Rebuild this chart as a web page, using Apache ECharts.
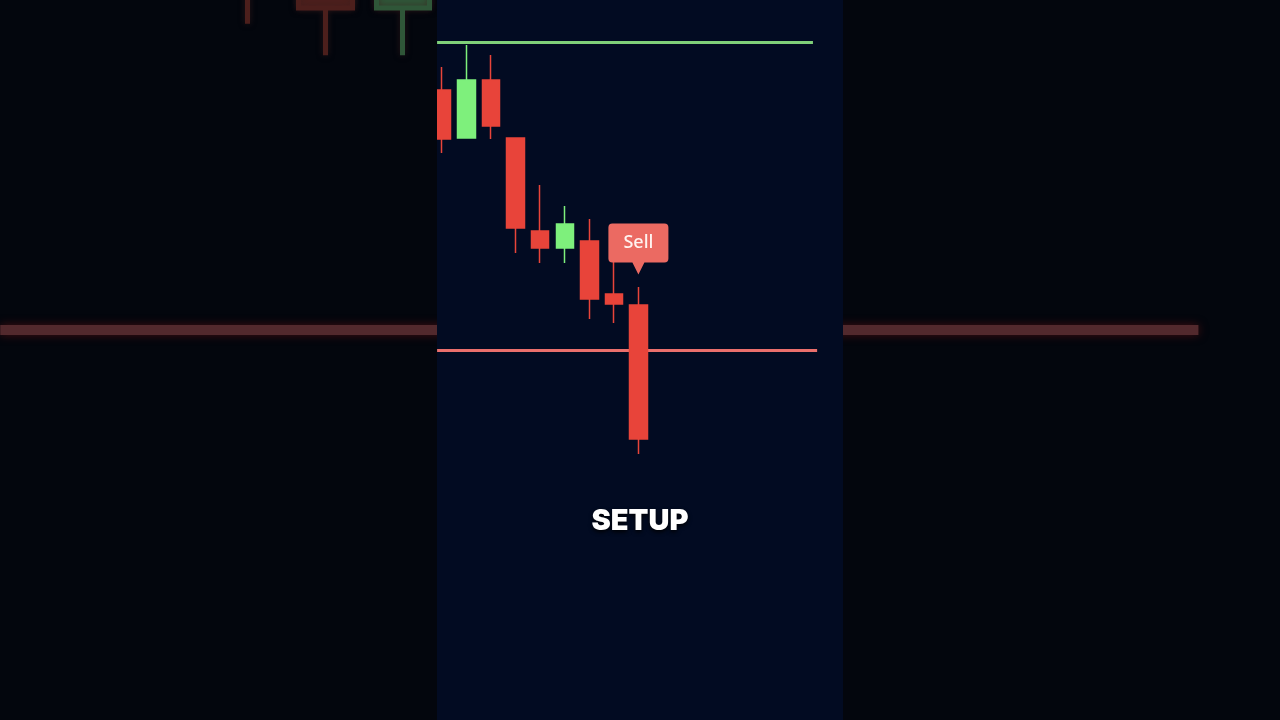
<!DOCTYPE html>
<html>
<head>
<meta charset="utf-8">
<script src="https://cdn.jsdelivr.net/npm/echarts@6/dist/echarts.min.js"></script>
<style>
  html, body { margin: 0; padding: 0; background: #03060d; }
  #chart { width: 1280px; height: 720px; }
</style>
</head>
<body>
<div id="chart"></div>
<script>
// ---- data ----
const xIndex = [0, 1, 2, 3, 4, 5, 6, 7, 8];
const opens  = [630, 582, 640, 582, 489, 472, 479, 426, 415];
const closes = [581, 640, 594, 492, 472, 496, 421, 416, 281];
const lows   = [567, 582, 581, 467, 457, 457, 401, 397, 266];
const highs  = [653, 675, 665, 582, 535, 514, 501, 458, 433];
const resistanceLevel = 677.5;
const supportLevel = 370;
const levelStart = -0.2;
const resistanceEnd = 15.11;
const supportEnd = 15.28;
const signalIndex = 8;
const signalText = 'Sell';
const caption = 'SETUP';

const candles = xIndex.map((x, i) => [x, opens[i], closes[i], lows[i], highs[i]]);

const chart = echarts.init(document.getElementById('chart'), null, { renderer: 'canvas' });

const hiddenAxis = {
  show: false, axisLine: { show: false }, axisTick: { show: false },
  axisLabel: { show: false }, splitLine: { show: false }
};

const calloutPath = 'path://M4,0 H56 Q60,0 60,4 V35 Q60,39 56,39 H36 L30,51 L24,39 H4 Q0,39 0,35 V4 Q0,0 4,0 Z';

chart.setOption({
  backgroundColor: '#03060d',
  animation: false,
  title: {
    text: caption,
    left: 'center',
    top: 502,
    textStyle: {
      color: '#ffffff', fontSize: 29, fontWeight: 900, fontFamily: 'Inter',
      textShadowColor: 'rgba(0,0,0,0.9)', textShadowBlur: 4, textShadowOffsetY: 2
    }
  },
  graphic: {
    elements: [
      {
        type: 'rect', z: 3, silent: true,
        shape: { x: 437, y: 0, width: 406, height: 720 },
        style: { fill: '#020b22' }
      },
      {
        type: 'rect', z: 20, silent: true,
        shape: { x: 420, y: 40, width: 17, height: 160 },
        style: { fill: '#03060d' }
      }
    ]
  },
  grid: [
    { left: 0, top: 0, width: 1280, height: 720 },
    { left: 437, top: 0, width: 406, height: 720 }
  ],
  xAxis: [
    Object.assign({ type: 'value', gridIndex: 0, min: -0.2037, max: 16.334 }, hiddenAxis),
    Object.assign({ type: 'value', gridIndex: 1, min: -0.2037, max: 16.334 }, hiddenAxis)
  ],
  yAxis: [
    Object.assign({ type: 'value', gridIndex: 0, min: 246.2, max: 474.5, scale: true }, hiddenAxis),
    Object.assign({ type: 'value', gridIndex: 1, min: 0, max: 720, scale: true }, hiddenAxis)
  ],
  series: [
    {
      type: 'candlestick',
      xAxisIndex: 0, yAxisIndex: 0,
      z: 1,
      data: candles,
      encode: { x: 0, y: [1, 2, 3, 4] },
      barWidth: 54,
      itemStyle: {
        color: '#2f5638', color0: '#4c1f1c',
        borderColor: '#2f5638', borderColor0: '#4c1f1c',
        borderWidth: 5, shadowBlur: 6, shadowColor: 'rgba(60,30,30,0.6)'
      },
      markLine: {
        z: 1, silent: true, symbol: 'none',
        label: { show: false },
        lineStyle: { color: '#52292d', width: 10, type: 'solid', shadowBlur: 10, shadowColor: 'rgba(110,20,20,0.6)' },
        data: [
          [{ coord: [levelStart, supportLevel] }, { coord: [supportEnd, supportLevel] }]
        ]
      }
    },
    {
      type: 'candlestick',
      xAxisIndex: 1, yAxisIndex: 1,
      z: 10,
      data: candles,
      encode: { x: 0, y: [1, 2, 3, 4] },
      barWidth: 18,
      itemStyle: {
        color: '#7ef07c', color0: '#e8443a',
        borderColor: '#7ef07c', borderColor0: '#e8443a',
        borderWidth: 1.5
      },
      markLine: {
        z: 9, silent: true, symbol: 'none',
        label: { show: false },
        data: [
          [{ coord: [levelStart, resistanceLevel], lineStyle: { color: '#7fd079', width: 3, type: 'solid' } },
           { coord: [resistanceEnd, resistanceLevel] }],
          [{ coord: [levelStart, supportLevel], lineStyle: { color: '#ea6f6c', width: 3, type: 'solid' } },
           { coord: [supportEnd, supportLevel] }]
        ]
      },
      markPoint: {
        z: 12, silent: true,
        symbol: calloutPath,
        symbolSize: [60, 51],
        symbolKeepAspect: false,
        symbolOffset: [0, -38],
        itemStyle: { color: '#eb6a62' },
        label: {
          show: true, position: 'inside', offset: [0, -6],
          color: '#fff3f0', fontSize: 18, fontWeight: 500, fontFamily: 'Noto Sans',
          formatter: signalText
        },
        data: [{ coord: [signalIndex, highs[signalIndex]], value: signalText }]
      }
    }
  ]
});
</script>
</body>
</html>
